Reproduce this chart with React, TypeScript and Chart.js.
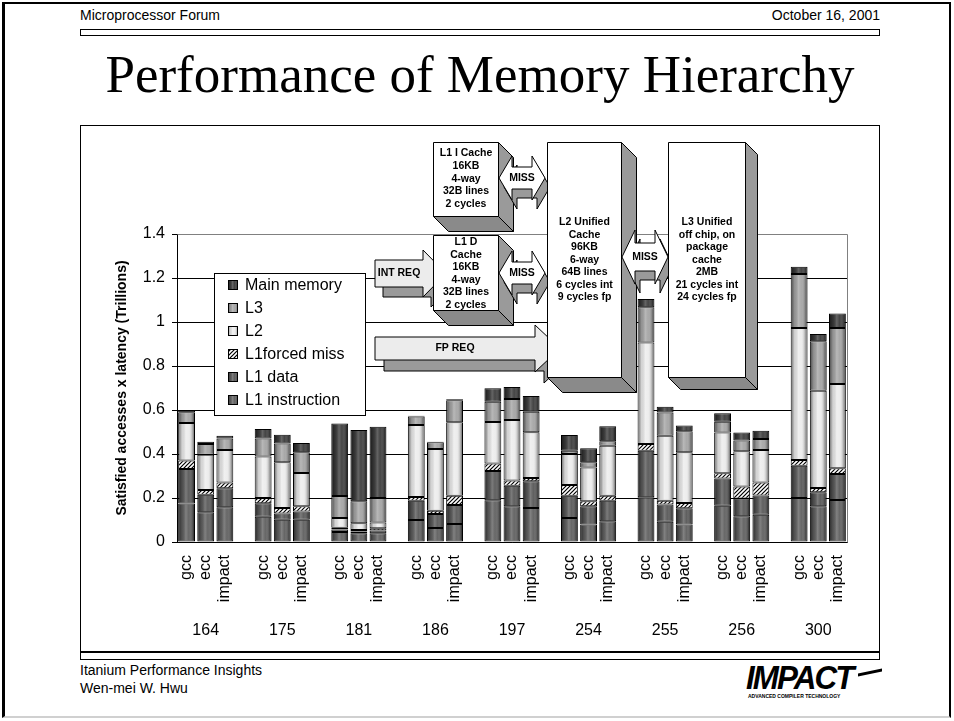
import React, { useEffect, useRef } from 'react';
import { Chart, registerables } from 'chart.js';

Chart.register(...registerables);

// ---------- data ----------
const benchmarks = ['164', '175', '181', '186', '197', '254', '255', '256', '300'];
const compilers = ['gcc', 'ecc', 'impact'];
const seriesNames = ['L1 instruction', 'L1 data', 'L1forced miss', 'L2', 'L3', 'Main memory'];
const yTickValues = [0, 0.2, 0.4, 0.6, 0.8, 1, 1.2, 1.4];

// order: for each benchmark -> gcc, ecc, impact
const l1Instruction = [0.175, 0.135, 0.158, 0.115, 0.101, 0.101, 0.045, 0.040, 0.040, 0.100, 0.064, 0.082, 0.190, 0.162, 0.155, 0.109, 0.079, 0.094, 0.203, 0.092, 0.079, 0.165, 0.117, 0.124, 0.200, 0.162, 0.191];
const l1Data = [0.157, 0.080, 0.086, 0.061, 0.029, 0.038, 0.012, 0.008, 0.012, 0.087, 0.063, 0.086, 0.133, 0.094, 0.121, 0.101, 0.083, 0.094, 0.212, 0.078, 0.074, 0.124, 0.081, 0.087, 0.147, 0.064, 0.118];
const l1ForcedMiss = [0.038, 0.021, 0.027, 0.024, 0.025, 0.023, 0.008, 0.007, 0.010, 0.018, 0.015, 0.042, 0.034, 0.023, 0.015, 0.049, 0.023, 0.022, 0.030, 0.018, 0.024, 0.023, 0.054, 0.060, 0.026, 0.019, 0.026];
const l2 = [0.171, 0.161, 0.147, 0.189, 0.207, 0.152, 0.044, 0.030, 0.027, 0.327, 0.281, 0.334, 0.189, 0.276, 0.208, 0.141, 0.154, 0.228, 0.462, 0.295, 0.231, 0.186, 0.160, 0.147, 0.600, 0.443, 0.383];
const l3 = [0.049, 0.048, 0.053, 0.082, 0.086, 0.094, 0.100, 0.100, 0.111, 0.038, 0.030, 0.100, 0.091, 0.095, 0.093, 0.015, 0.023, 0.020, 0.160, 0.106, 0.095, 0.049, 0.049, 0.050, 0.245, 0.224, 0.255];
const mainMemory = [0.010, 0.011, 0.012, 0.043, 0.040, 0.042, 0.330, 0.324, 0.324, 0.004, 0.003, 0.005, 0.062, 0.055, 0.072, 0.071, 0.064, 0.068, 0.038, 0.026, 0.026, 0.038, 0.037, 0.038, 0.033, 0.033, 0.066];

// ---------- helpers ----------
const slotCount = benchmarks.length * 4 - 1;
const xLabels = Array.from({ length: slotCount }, (_, i) => (i % 4 === 3 ? '' : compilers[i % 4]));
const groupLabels = Array.from({ length: slotCount }, (_, i) => (i % 4 === 1 ? benchmarks[i >> 2] : ''));
const toSlots = (arr: number[]) =>
  Array.from({ length: slotCount }, (_, i) => (i % 4 === 3 ? null : arr[(i >> 2) * 3 + (i % 4)]));

const FONT = '"Liberation Sans", Arial, sans-serif';
Chart.defaults.font.family = FONT;
Chart.defaults.color = '#000';

function makeHatch(): CanvasPattern | string {
  const c = document.createElement('canvas');
  c.width = 4;
  c.height = 4;
  const g = c.getContext('2d');
  if (!g) return '#888';
  g.fillStyle = '#fff';
  g.fillRect(0, 0, 4, 4);
  g.strokeStyle = '#000';
  g.lineWidth = 1.2;
  g.beginPath();
  g.moveTo(0, 4); g.lineTo(4, 0);
  g.moveTo(-1, 1); g.lineTo(1, -1);
  g.moveTo(3, 5); g.lineTo(5, 3);
  g.stroke();
  return g.createPattern(c, 'repeat') || '#888';
}

function shade(ctx: CanvasRenderingContext2D, l: number, t: number, w: number, h: number) {
  const g = ctx.createLinearGradient(l, 0, l + w, 0);
  g.addColorStop(0, 'rgba(0,0,0,0.45)');
  g.addColorStop(0.2, 'rgba(0,0,0,0.1)');
  g.addColorStop(0.45, 'rgba(255,255,255,0.22)');
  g.addColorStop(0.65, 'rgba(255,255,255,0.05)');
  g.addColorStop(1, 'rgba(0,0,0,0.5)');
  ctx.fillStyle = g;
  ctx.fillRect(l, t, w, h);
}

function poly(ctx: CanvasRenderingContext2D, pts: number[][], fill: string) {
  ctx.beginPath();
  pts.forEach((p, i) => (i ? ctx.lineTo(p[0], p[1]) : ctx.moveTo(p[0], p[1])));
  ctx.closePath();
  ctx.fillStyle = fill;
  ctx.fill();
  ctx.strokeStyle = '#000';
  ctx.lineWidth = 1;
  ctx.stroke();
}

function textLines(ctx: CanvasRenderingContext2D, lines: string[], cx: number, y0: number, step: number) {
  ctx.fillStyle = '#000';
  ctx.font = `bold 10.5px ${FONT}`;
  ctx.textAlign = 'center';
  ctx.textBaseline = 'middle';
  lines.forEach((s, i) => ctx.fillText(s, cx, y0 + i * step));
}

function box3d(ctx: CanvasRenderingContext2D, x: number, y: number, w: number, h: number, d: number,
  lines: string[], y0: number, step: number) {
  poly(ctx, [[x + w, y], [x + w + d, y + d], [x + w + d, y + h + d], [x + w, y + h]], '#9a9a9a');
  poly(ctx, [[x, y + h], [x + d, y + h + d], [x + w + d, y + h + d], [x + w, y + h]], '#8a8a8a');
  poly(ctx, [[x, y], [x + w, y], [x + w, y + h], [x, y + h]], '#ffffff');
  textLines(ctx, lines, x + w / 2, y0, step);
}

function dblArrowPts(x1: number, x2: number, cy: number, hh: number, sh: number, hl: number, dx = 0, dy = 0) {
  const p = [
    [x1, cy], [x1 + hl, cy - hh / 2], [x1 + hl, cy - sh / 2], [x2 - hl, cy - sh / 2], [x2 - hl, cy - hh / 2],
    [x2, cy], [x2 - hl, cy + hh / 2], [x2 - hl, cy + sh / 2], [x1 + hl, cy + sh / 2], [x1 + hl, cy + hh / 2],
  ];
  return p.map(q => [q[0] + dx, q[1] + dy]);
}

function dblArrow(ctx: CanvasRenderingContext2D, x1: number, x2: number, cy: number, hh: number, sh: number, hl: number) {
  poly(ctx, dblArrowPts(x1, x2, cy, hh, sh, hl, 5, 9), '#9a9a9a');
  poly(ctx, dblArrowPts(x1, x2, cy, hh, sh, hl), '#ffffff');
  textLines(ctx, ['MISS'], (x1 + x2) / 2, cy, 0);
}

function arrowPts(x1: number, xh: number, xt: number, cy: number, sh: number, hh: number, dx = 0, dy = 0) {
  const p = [[x1, cy - sh / 2], [xh, cy - sh / 2], [xh, cy - hh / 2], [xt, cy], [xh, cy + hh / 2], [xh, cy + sh / 2], [x1, cy + sh / 2]];
  return p.map(q => [q[0] + dx, q[1] + dy]);
}

function arrow(ctx: CanvasRenderingContext2D, x1: number, xh: number, xt: number, cy: number, sh: number, hh: number, label: string, d: number) {
  poly(ctx, arrowPts(x1, xh, xt, cy, sh, hh, d - 2, d), '#9a9a9a');
  poly(ctx, arrowPts(x1, xh, xt, cy, sh, hh), '#ececec');
  textLines(ctx, [label], (x1 + xh) / 2, cy, 0);
}

const decorPlugin = {
  id: 'decor',
  afterDatasetsDraw(chart: any) {
    const ctx: CanvasRenderingContext2D = chart.ctx;
    ctx.save();
    chart.data.datasets.forEach((_: any, di: number) => {
      if (di === 2) return;
      const meta = chart.getDatasetMeta(di);
      meta.data.forEach((el: any) => {
        const p = el.getProps(['x', 'y', 'base', 'width'], true);
        if (p.x == null || p.y == null || isNaN(p.y) || isNaN(p.base)) return;
        const top = Math.min(p.y, p.base);
        const bot = Math.max(p.y, p.base);
        if (bot - top < 3) return;
        shade(ctx, p.x - p.width / 2 + 1, top + 1, p.width - 2, bot - top - 2);
      });
    });
    // plot area border (top & right)
    const a = chart.chartArea;
    ctx.strokeStyle = '#808080';
    ctx.lineWidth = 1;
    ctx.beginPath();
    ctx.moveTo(Math.round(a.left) + 0.5, Math.round(a.top) + 0.5);
    ctx.lineTo(Math.round(a.right) + 0.5, Math.round(a.top) + 0.5);
    ctx.lineTo(Math.round(a.right) + 0.5, Math.round(a.bottom) + 0.5);
    ctx.stroke();
    ctx.restore();
  },
  afterDraw(chart: any) {
    const ctx: CanvasRenderingContext2D = chart.ctx;
    ctx.save();
    // ----- legend -----
    const lx = 214.5, ly = 273.5, lw = 151, lh = 142;
    ctx.fillStyle = '#fff';
    ctx.fillRect(lx, ly, lw, lh);
    ctx.strokeStyle = '#000';
    ctx.lineWidth = 1;
    ctx.strokeRect(lx, ly, lw, lh);
    const order = [5, 4, 3, 2, 1, 0];
    order.forEach((di, i) => {
      const cy = 285 + i * 23;
      const ds = chart.data.datasets[di];
      ctx.fillStyle = ds.backgroundColor;
      ctx.fillRect(228, cy - 5, 10, 10);
      if (di !== 2) shade(ctx, 228, cy - 5, 10, 10);
      ctx.strokeStyle = '#000';
      ctx.strokeRect(228.5, cy - 4.5, 9, 9);
      ctx.fillStyle = '#000';
      ctx.font = `16px ${FONT}`;
      ctx.textAlign = 'left';
      ctx.textBaseline = 'middle';
      ctx.fillText(seriesNames[di], 245, cy + 1);
    });
    // ----- hierarchy diagram -----
    arrow(ctx, 375, 423, 446, 273.5, 27, 47, 'INT REQ', 10);
    arrow(ctx, 375, 535, 560, 348.5, 23, 47, 'FP REQ', 11);
    box3d(ctx, 433.5, 142.5, 65, 74, 15, ['L1 I Cache', '16KB', '4-way', '32B lines', '2 cycles'], 153.5, 12.7);
    box3d(ctx, 433.5, 235.5, 65, 75, 15, ['L1 D', 'Cache', '16KB', '4-way', '32B lines', '2 cycles'], 242.5, 12.45);
    dblArrow(ctx, 499, 545, 178, 44, 22, 13);
    dblArrow(ctx, 499, 545, 273, 44, 22, 13);
    box3d(ctx, 547.5, 142.5, 74, 235, 15, ['L2 Unified', 'Cache', '96KB', '6-way', '64B lines', '6 cycles int', '9 cycles fp'], 222.5, 12.5);
    dblArrow(ctx, 622, 668, 257, 54, 28, 13);
    box3d(ctx, 668.5, 142.5, 77, 235, 12, ['L3 Unified', 'off chip, on', 'package', 'cache', '2MB', '21 cycles int', '24 cycles fp'], 222.5, 12.5);
    ctx.restore();
  },
};

export default function App() {
  const ref = useRef<HTMLCanvasElement>(null);

  useEffect(() => {
    const canvas = ref.current;
    if (!canvas) return;
    const hatch = makeHatch();
    const fills: any[] = ['#5e5e5e', '#575757', hatch, '#ececec', '#a4a4a4', '#3a3a3a'];
    const series = [l1Instruction, l1Data, l1ForcedMiss, l2, l3, mainMemory];
    const chart = new Chart(canvas, {
      type: 'bar',
      data: {
        labels: xLabels,
        datasets: series.map((arr, i) => ({
          label: seriesNames[i],
          data: toSlots(arr),
          backgroundColor: fills[i],
          borderColor: '#000',
          borderWidth: 1,
          borderSkipped: false,
          stack: 'all',
          barPercentage: 0.88,
          categoryPercentage: 1,
        })),
      },
      options: {
        animation: false,
        responsive: false,
        devicePixelRatio: 1,
        layout: { padding: { left: 104, top: 234, right: 107, bottom: 74 } },
        plugins: { legend: { display: false }, tooltip: { enabled: false }, title: { display: false } },
        scales: {
          x: {
            stacked: true,
            afterFit: (s: any) => { s.height = 75; },
            grid: { display: false, drawTicks: false },
            border: { display: true, color: '#000', width: 1 },
            ticks: { autoSkip: false, minRotation: 90, maxRotation: 90, padding: 13, color: '#000', font: { size: 16 } },
          },
          y: {
            stacked: true,
            min: 0,
            max: 1.4,
            afterFit: (s: any) => { s.width = 73; },
            afterBuildTicks: (s: any) => { s.ticks = yTickValues.map(v => ({ value: v })); },
            ticks: {
              stepSize: 0.2,
              padding: 7,
              color: '#000',
              font: { size: 16 },
              callback: (v: any) => String(Math.round(Number(v) * 10) / 10),
            },
            grid: {
              color: (c: any) => (c.tick && c.tick.value >= 1.39 ? '#808080' : '#000'),
              tickColor: '#000',
              tickLength: 5,
              drawTicks: true,
              lineWidth: 1,
            },
            border: { display: true, color: '#000', width: 1 },
            title: {
              display: true,
              text: 'Satisfied accesses x latency (Trillions)',
              color: '#000',
              font: { size: 14, weight: 'bold' },
              padding: { top: 10, bottom: 0 },
            },
          },
          x2: {
            type: 'category',
            labels: groupLabels,
            position: 'bottom',
            offset: true,
            afterFit: (s: any) => { s.height = 30; },
            grid: { display: false, drawTicks: false },
            border: { display: false },
            ticks: { autoSkip: false, maxRotation: 0, minRotation: 0, padding: 4, color: '#000', font: { size: 16 } },
          },
        } as any,
      },
      plugins: [decorPlugin],
    } as any);
    return () => chart.destroy();
  }, []);

  const abs = (s: React.CSSProperties): React.CSSProperties => ({ position: 'absolute', ...s });

  return (
    <div style={{ position: 'fixed', left: 0, top: 0, width: 954, height: 721, background: '#fff', overflow: 'hidden', fontFamily: FONT, color: '#000' }}>
      <div style={abs({ left: 2, top: 2, width: 949, height: 716, boxSizing: 'border-box', borderTop: '2px solid #000', borderLeft: '3px solid #000', borderRight: '2px solid #000', borderBottom: '2px solid #d0d0d0' })} />
      <div style={abs({ left: 80, top: 8, fontSize: 14, lineHeight: '14px' })}>Microprocessor Forum</div>
      <div style={abs({ left: 80, top: 8, width: 800, textAlign: 'right', fontSize: 14, lineHeight: '14px' })}>October 16, 2001</div>
      <div style={abs({ left: 80, top: 29, width: 800, height: 7, boxSizing: 'border-box', border: '1px solid #000', background: '#fff' })} />
      <div style={abs({ left: 80, top: 48, width: 800, textAlign: 'center', fontFamily: '"Liberation Serif", "Times New Roman", serif', fontSize: 53, lineHeight: '53px', whiteSpace: 'nowrap' })}>Performance of Memory Hierarchy</div>
      <div style={abs({ left: 80, top: 125, width: 800, height: 527, boxSizing: 'border-box', border: '1px solid #000', background: '#fff' })} />
      <div style={abs({ left: 80, top: 652, width: 800, height: 8, boxSizing: 'border-box', border: '1px solid #000', background: '#fff' })} />
      <div style={abs({ left: 80, top: 663, fontSize: 14, lineHeight: '14px' })}>Itanium Performance Insights</div>
      <div style={abs({ left: 80, top: 681, fontSize: 14, lineHeight: '14px' })}>Wen-mei W. Hwu</div>
      <div style={abs({ left: 746, top: 661, fontSize: 33, lineHeight: '33px', fontWeight: 900, fontStyle: 'italic', letterSpacing: -2, transform: 'scaleX(0.95)', transformOrigin: 'left top' })}>IMPACT</div>
      <div style={abs({ left: 858, top: 671, width: 24, height: 3, background: '#000', transform: 'skewY(-12deg)' })} />
      <div style={abs({ left: 748, top: 694, fontSize: 5, lineHeight: '5px', fontWeight: 'bold', whiteSpace: 'nowrap' })}>ADVANCED COMPILER TECHNOLOGY</div>
      <canvas ref={ref} width={954} height={721} style={abs({ left: 0, top: 0, width: 954, height: 721 })} />
    </div>
  );
}
